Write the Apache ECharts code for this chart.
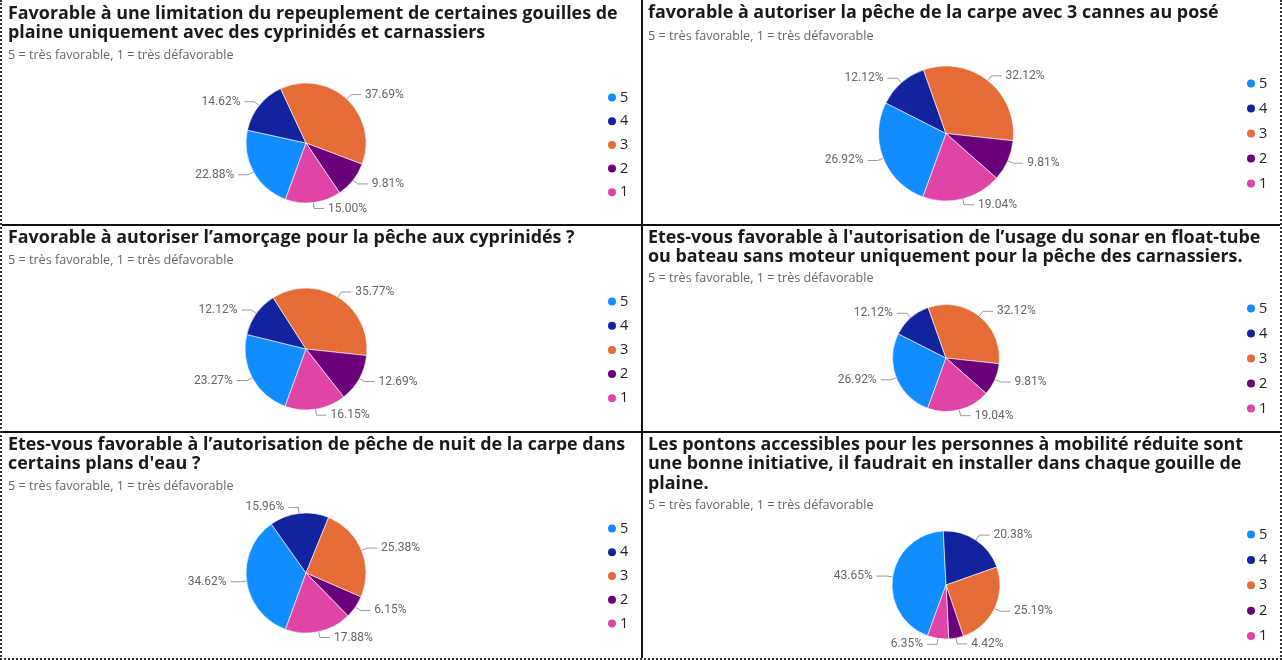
<!DOCTYPE html>
<html><head><meta charset="utf-8">
<script src="https://cdn.jsdelivr.net/npm/echarts@6/dist/echarts.min.js"></script>
<style>
html,body{margin:0;padding:0;background:#fff;}
#wrap{position:relative;width:1282px;height:660px;overflow:hidden;background:#fff;}
#chart{position:absolute;left:0;top:0;width:1282px;height:660px;}
.ln{position:absolute;background:#111;}
.dl{position:absolute;border:0 dotted #333;}
</style></head><body>
<div id="wrap">
<div id="chart"></div>
<div class="ln" style="left:641px;top:0;width:2px;height:658px"></div>
<div class="ln" style="left:2px;top:224px;width:1278px;height:2px"></div>
<div class="ln" style="left:2px;top:431px;width:1278px;height:2px"></div>
<div class="dl" style="left:0;top:0;width:0;height:660px;border-left-width:2px"></div>
<div class="dl" style="left:1280px;top:0;width:0;height:660px;border-left-width:2px"></div>
<div class="dl" style="left:0;top:658px;width:1282px;height:0;border-top-width:2px"></div>
</div>
<script>
// ---- data ----
const categories = ['5', '4', '3', '2', '1'];
const colors = ['#118DFF', '#12239E', '#E66C37', '#6B007B', '#E044A7'];
const subtitle = '5 = très favorable, 1 = très défavorable';
const titles = [
  'Favorable à une limitation du repeuplement de certaines gouilles de\nplaine uniquement avec des cyprinidés et carnassiers',
  'favorable à autoriser la pêche de la carpe avec 3 cannes au posé',
  'Favorable à autoriser l’amorçage pour la pêche aux cyprinidés ?',
  "Etes-vous favorable à l'autorisation de l’usage du sonar en float-tube\nou bateau sans moteur uniquement pour la pêche des carnassiers.",
  "Etes-vous favorable à l’autorisation de pêche de nuit de la carpe dans\ncertains plans d'eau ?",
  'Les pontons accessibles pour les personnes à mobilité réduite sont\nune bonne initiative, il faudrait en installer dans chaque gouille de\nplaine.'
];
const values1 = [22.88, 14.62, 37.69, 9.81, 15.00];
const values2 = [26.92, 12.12, 32.12, 9.81, 19.04];
const values3 = [23.27, 12.12, 35.77, 12.69, 16.15];
const values4 = [26.92, 12.12, 32.12, 9.81, 19.04];
const values5 = [34.62, 15.96, 25.38, 6.15, 17.88];
const values6 = [43.65, 20.38, 25.19, 4.42, 6.35];
const allValues = [values1, values2, values3, values4, values5, values6];

// ---- layout (positions only) ----
const layout = [
  {tx: 8,   ty: 4,   sy: 48,  cx: 306, cy: 143, r: 60, lx: 606,  ly: 90,  gap: 9.7},
  {tx: 648, ty: 3,   sy: 29,  cx: 946, cy: 133.5, r: 67.5, lx: 1245, ly: 76, gap: 11},
  {tx: 8,   ty: 228, sy: 253, cx: 306, cy: 349, r: 61, lx: 606,  ly: 294, gap: 10.2},
  {tx: 648, ty: 228, sy: 271, cx: 946, cy: 358, r: 53.5, lx: 1245, ly: 301, gap: 11},
  {tx: 8,   ty: 435, sy: 479, cx: 306, cy: 573, r: 60, lx: 606,  ly: 521, gap: 9.75},
  {tx: 648, ty: 435, sy: 498, cx: 946, cy: 585, r: 54, lx: 1245, ly: 527, gap: 11.4}
];

const TFONT = '"Open Sans", "Noto Sans", sans-serif';
const LFONT = 'Roboto, "Noto Sans", sans-serif';
const titleComps = [], legendComps = [], seriesList = [];
layout.forEach((L, k) => {
  titleComps.push({
    text: titles[k], left: L.tx, top: L.ty, padding: 0,
    textStyle: {fontFamily: TFONT, fontWeight: 'bold', fontSize: 17.9, lineHeight: 19.5, color: '#1a1a1a'}
  });
  titleComps.push({
    text: subtitle, left: L.tx, top: L.sy, padding: 0,
    textStyle: {fontFamily: TFONT, fontWeight: 'normal', fontSize: 12.6, lineHeight: 14, color: '#666'}
  });
  legendComps.push({
    orient: 'vertical', left: L.lx, top: L.ly, padding: 0,
    itemGap: L.gap - 1, itemWidth: 10, itemHeight: 10, icon: 'circle',
    selectedMode: false,
    data: categories,
    textStyle: {fontFamily: TFONT, fontSize: 14.5, lineHeight: 15, color: '#222', padding: [0, 0, 0, -2]}
  });
  seriesList.push({
    type: 'pie', name: 'q' + (k + 1),
    center: [L.cx, L.cy], radius: L.r,
    startAngle: 250, clockwise: true,
    avoidLabelOverlap: true,
    emphasis: {disabled: true},
    itemStyle: {borderColor: '#fff', borderWidth: 0.6},
    label: {
      show: true, position: 'outside', distanceToLabelLine: 4,
      fontFamily: LFONT, fontSize: 12, color: '#666',
      formatter: p => p.value.toFixed(2) + '%'
    },
    labelLine: {show: true, length: 6, length2: 10, lineStyle: {color: '#999', width: 1}},
    data: categories.map((c, i) => ({name: c, value: allValues[k][i]}))
  });
});

const chart = echarts.init(document.getElementById('chart'), null, {renderer: 'canvas'});
chart.setOption({
  animation: false,
  color: colors,
  title: titleComps,
  legend: legendComps,
  tooltip: {show: false},
  series: seriesList
});
</script>
</body></html>
